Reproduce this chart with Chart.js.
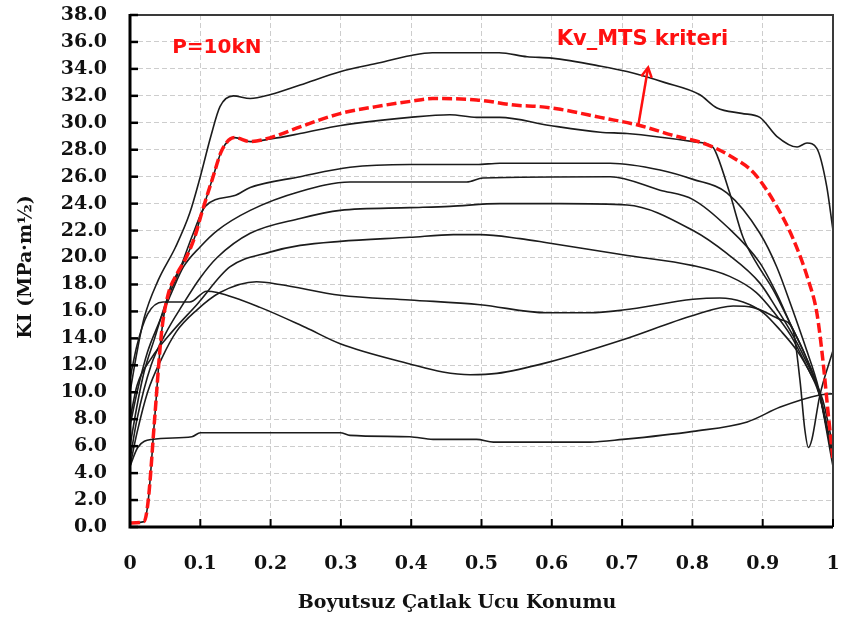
<!DOCTYPE html>
<html><head><meta charset="utf-8">
<script src="https://cdn.jsdelivr.net/npm/chart.js@4/dist/chart.umd.min.js"></script>
<style>html,body{margin:0;padding:0;background:#fff;}#wrap{width:843px;height:623px;}</style>
</head><body><div id="wrap"><canvas id="c" width="843" height="623"></canvas></div>
<script>
// ---- tick labels ----
const xTickLabels = ['0','0.1','0.2','0.3','0.4','0.5','0.6','0.7','0.8','0.9','1'];
const yTickLabels = ['0.0','2.0','4.0','6.0','8.0','10.0','12.0','14.0','16.0','18.0','20.0','22.0','24.0','26.0','28.0','30.0','32.0','34.0','36.0','38.0'];

// ---- series (x = dimensionless crack tip position, y = KI) ----
const redX = [0,0.02,0.026,0.035,0.045,0.054,0.068,0.078,0.092,0.102,0.117,0.131,0.149,0.171,0.2,0.242,0.3,0.35,0.4,0.431,0.493,0.55,0.583,0.612,0.669,0.725,0.77,0.82,0.855,0.887,0.92,0.944,0.965,0.977,0.986,0.993,1.0];
const redY = [0.3,0.4,2,8,14.5,17.2,18.9,19.8,21.5,23.3,25.8,28,28.9,28.6,28.9,29.7,30.7,31.2,31.6,31.8,31.7,31.3,31.2,31.0,30.4,29.8,29.1,28.4,27.5,26.3,23.8,21.3,18.3,15.9,12.2,8.5,5];

const aX = [0,0.01,0.02,0.04,0.065,0.085,0.1,0.115,0.128,0.147,0.171,0.2,0.242,0.3,0.35,0.4,0.43,0.525,0.565,0.6,0.67,0.707,0.76,0.81,0.835,0.87,0.896,0.92,0.949,0.963,0.977,0.991,1.0];
const aY = [10,13,15.5,18.3,20.8,23.3,26,29,31.2,32,31.8,32.1,32.8,33.8,34.4,35,35.2,35.2,34.9,34.8,34.2,33.8,33,32.1,31.1,30.7,30.4,29,28.2,28.5,28.1,25.3,22];

const bX = [0,0.02,0.026,0.035,0.045,0.054,0.068,0.078,0.092,0.102,0.117,0.131,0.149,0.171,0.2,0.242,0.3,0.398,0.455,0.493,0.526,0.597,0.669,0.707,0.801,0.829,0.835,0.853,0.872,0.891,0.915,0.939,0.96,0.98,1.0];
const bY = [0.3,0.4,2,8,14.5,17.2,18.9,19.8,21.5,23.3,25.8,28,28.9,28.6,28.8,29.2,29.8,30.4,30.6,30.4,30.4,29.8,29.3,29.2,28.6,28.2,27.6,24.8,21.5,19.6,17.6,15.1,12.8,10,5];

const c4X = [0,0.01,0.02,0.035,0.05,0.07,0.09,0.107,0.149,0.171,0.242,0.313,0.398,0.493,0.526,0.683,0.754,0.801,0.849,0.896,0.92,0.94,0.96,0.98,1.0];
const c4Y = [6,9,11.5,14,16.5,19,21.8,23.8,24.6,25.2,26.0,26.7,26.9,26.9,27.0,27.0,26.5,25.8,24.8,21.8,19.3,16.5,13.5,10.2,5];

const c5X = [0,0.01,0.025,0.04,0.06,0.076,0.1,0.124,0.171,0.242,0.313,0.479,0.502,0.683,0.754,0.801,0.849,0.896,0.92,0.94,0.96,0.98,1.0];
const c5Y = [7.5,10,13,15,17.5,19.3,20.8,22.0,23.5,24.9,25.6,25.6,25.9,26.0,25.0,24.3,22.3,19.6,17.3,15.0,12.8,10.0,4.5];

const c6X = [0,0.01,0.03,0.05,0.075,0.1,0.124,0.171,0.242,0.299,0.398,0.455,0.526,0.612,0.707,0.801,0.849,0.896,0.92,0.94,0.96,0.98,1.0];
const c6Y = [5,8,12,14.3,16.5,18.5,20.0,21.8,22.9,23.5,23.7,23.8,24.0,24.0,23.9,22.0,20.3,18.1,16.2,14.5,12.5,10.0,5.0];

const c7X = [0,0.01,0.03,0.06,0.095,0.142,0.199,0.242,0.299,0.398,0.46,0.498,0.555,0.593,0.701,0.801,0.853,0.891,0.915,0.94,0.96,0.98,1.0];
const c7Y = [8,10.5,12.5,14.5,16.5,19.3,20.4,20.9,21.2,21.5,21.7,21.7,21.4,21.1,20.2,19.4,18.6,17.4,16.0,14.2,12.2,9.9,5.5];

const c8X = [0,0.01,0.025,0.045,0.066,0.095,0.128,0.18,0.213,0.299,0.398,0.498,0.593,0.654,0.701,0.801,0.839,0.872,0.901,0.925,0.95,0.97,0.985,1.0];
const c8Y = [4.5,7,10,12.5,14.5,16.1,17.4,18.2,18.0,17.2,16.85,16.5,15.9,15.9,16.1,16.9,17.0,16.7,15.9,14.6,13,11.2,9.5,6];

const uX = [0,0.01,0.025,0.047,0.085,0.109,0.124,0.185,0.25,0.299,0.398,0.445,0.484,0.522,0.593,0.701,0.801,0.858,0.886,0.925,0.943,0.953,0.96,0.965,0.97,0.981,1.0];
const uY = [11,13.5,15.8,16.7,16.7,17.5,17.4,16.3,14.8,13.6,12.1,11.5,11.3,11.4,12.2,13.9,15.7,16.4,16.3,15.4,14.6,10.9,7.2,5.9,6.5,9.7,13.1];

const lowX = [0,0.011,0.031,0.088,0.1,0.242,0.299,0.313,0.398,0.431,0.493,0.517,0.654,0.701,0.801,0.878,0.925,0.981,1.0];
const lowY = [4.5,5.9,6.5,6.7,7.0,7.0,7.0,6.8,6.7,6.5,6.5,6.3,6.3,6.5,7.1,7.8,8.9,9.8,9.9];

// ---- annotations (data coordinates) ----
const arrowFrom = {x:0.723, y:29.8};
const arrowTo = {x:0.737, y:34.1};
const loadLabel = {text:'P=10kN', x:0.06, y:35.6};
const critLabel = {text:'Kv_MTS kriteri', x:0.607, y:36.15};
const xTitle = 'Boyutsuz Çatlak Ucu Konumu';
const yTitle = 'KI (MPa·m½)';

const pts = (xs, ys) => xs.map((x, i) => ({x, y: ys[i]}));
const blk = (xs, ys) => ({data: pts(xs, ys), borderColor:'#1c1c1c', borderWidth:1.6, showLine:true, pointRadius:0, cubicInterpolationMode:'monotone', fill:false});

const SERIF = '"DejaVu Serif", serif';

const framePlugin = {
  id:'frame',
  afterDatasetsDraw(chart){
    const {ctx, chartArea:a, scales:{x, y}} = chart;
    ctx.save();
    ctx.strokeStyle = '#3a3a3a'; ctx.lineWidth = 2;
    ctx.beginPath(); ctx.moveTo(a.left, a.top); ctx.lineTo(a.right, a.top); ctx.lineTo(a.right, a.bottom); ctx.stroke();
    ctx.strokeStyle = '#000'; ctx.lineWidth = 3;
    ctx.beginPath(); ctx.moveTo(a.left, a.top - 1); ctx.lineTo(a.left, a.bottom); ctx.lineTo(a.right, a.bottom); ctx.stroke();
    ctx.lineWidth = 2.5;
    y.ticks.forEach(t => { const py = y.getPixelForValue(t.value); ctx.beginPath(); ctx.moveTo(a.left, py); ctx.lineTo(a.left + 8, py); ctx.stroke(); });
    ctx.lineWidth = 2;
    x.ticks.forEach(t => { const px = x.getPixelForValue(t.value); ctx.beginPath(); ctx.moveTo(px, a.bottom); ctx.lineTo(px, a.bottom - 8); ctx.stroke(); });

    const x1 = x.getPixelForValue(arrowFrom.x), y1 = y.getPixelForValue(arrowFrom.y);
    const x2 = x.getPixelForValue(arrowTo.x), y2 = y.getPixelForValue(arrowTo.y);
    ctx.strokeStyle = '#ff1010'; ctx.lineWidth = 2.5;
    ctx.beginPath(); ctx.moveTo(x1, y1); ctx.lineTo(x2, y2); ctx.stroke();
    const ang = Math.atan2(y2 - y1, x2 - x1), L = 11, w = 0.5;
    ctx.beginPath();
    ctx.moveTo(x2 - L*Math.cos(ang - w), y2 - L*Math.sin(ang - w));
    ctx.lineTo(x2, y2);
    ctx.lineTo(x2 - L*Math.cos(ang + w), y2 - L*Math.sin(ang + w));
    ctx.stroke();

    ctx.fillStyle = '#ff1010';
    ctx.textBaseline = 'middle'; ctx.textAlign = 'left';
    ctx.font = 'bold 20px "DejaVu Sans", sans-serif';
    ctx.fillText(loadLabel.text, x.getPixelForValue(loadLabel.x), y.getPixelForValue(loadLabel.y));
    ctx.font = 'bold 21px "DejaVu Sans", sans-serif';
    ctx.fillText(critLabel.text, x.getPixelForValue(critLabel.x), y.getPixelForValue(critLabel.y));

    ctx.fillStyle = '#111';
    ctx.font = 'bold 19px ' + SERIF;
    ctx.textAlign = 'center';
    ctx.fillText(xTitle, 457, 603);
    ctx.translate(26, 267); ctx.rotate(-Math.PI/2);
    ctx.fillText(yTitle, 0, 0);
    ctx.restore();
  }
};

new Chart(document.getElementById('c'), {
  type:'scatter',
  data:{datasets:[
    {data: pts(redX, redY), borderColor:'#ff1414', borderWidth:3.5, borderDash:[10,4], showLine:true, pointRadius:0, cubicInterpolationMode:'monotone', fill:false},
    blk(aX, aY), blk(bX, bY), blk(c4X, c4Y), blk(c5X, c5Y), blk(c6X, c6Y), blk(c7X, c7Y), blk(c8X, c8Y), blk(uX, uY), blk(lowX, lowY)
  ]},
  options:{
    responsive:false, animation:false, devicePixelRatio:1,
    layout:{padding:{top:15, right:10, left:0, bottom:0}},
    plugins:{legend:{display:false}, tooltip:{enabled:false}},
    scales:{
      x:{type:'linear', min:0, max:1,
        ticks:{stepSize:0.1, autoSkip:false, maxRotation:0, padding:26, color:'#111',
          font:{family:SERIF, weight:'bold', size:19}, callback:(v, i) => xTickLabels[i]},
        grid:{color:'#cdcdcd', lineWidth:1, drawTicks:false},
        border:{display:false, dash:[5,3]},
        afterFit(s){ s.height = 96; s.paddingLeft = 0; s.paddingRight = 0; s.paddingTop = 0; s.paddingBottom = 0; }
      },
      y:{type:'linear', min:0, max:38,
        ticks:{stepSize:2, autoSkip:false, padding:23, color:'#111',
          font:{family:SERIF, weight:'bold', size:19}, callback:(v, i) => yTickLabels[i]},
        grid:{color:'#cdcdcd', lineWidth:1, drawTicks:false},
        border:{display:false, dash:[5,3]},
        afterFit(s){ s.width = 130; s.paddingLeft = 0; s.paddingRight = 0; s.paddingTop = 0; s.paddingBottom = 0; }
      }
    }
  },
  plugins:[framePlugin]
});
</script></body></html>
